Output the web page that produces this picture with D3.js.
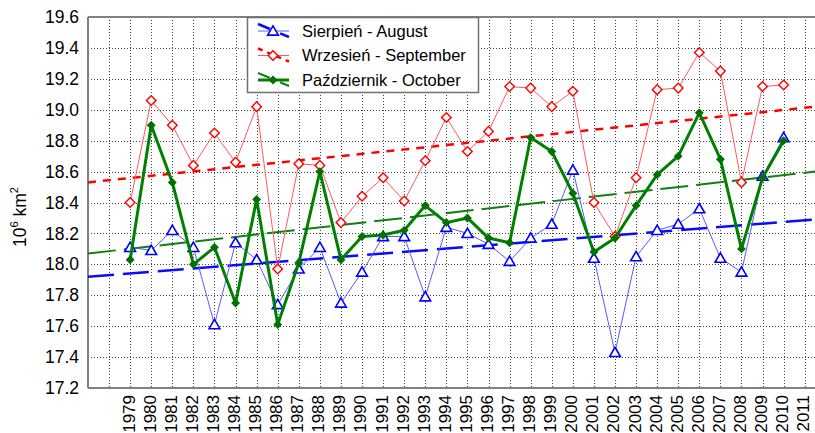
<!DOCTYPE html>
<html>
<head>
<meta charset="utf-8">
<script src="https://cdn.jsdelivr.net/npm/d3@7"></script>
<style>
  body { margin: 0; background: #fff; }
  svg { display: block; font-family: "Liberation Sans", Arial, sans-serif; }
</style>
</head>
<body>
<div id="chart"></div>
<script>
// years on the x axis
var years = d3.range(1979, 2011);
var yearLabels = d3.range(1979, 2012);
var yTicks = [17.2, 17.4, 17.6, 17.8, 18.0, 18.2, 18.4, 18.6, 18.8, 19.0, 19.2, 19.4, 19.6];

var august = [18.11, 18.09, 18.22, 18.11, 17.61, 18.14, 18.03, 17.74, 17.97, 18.11,
    17.75, 17.95, 18.18, 18.18, 17.79, 18.24, 18.20, 18.13, 18.02, 18.17,
    18.26, 18.61, 18.04, 17.43, 18.05, 18.22, 18.26, 18.36, 18.04, 17.95,
    18.57, 18.82];
var september = [18.40, 19.06, 18.90, 18.64, 18.85, 18.66, 19.02, 17.97, 18.65, 18.64,
    18.27, 18.44, 18.56, 18.41, 18.67, 18.95, 18.73, 18.86, 19.15, 19.14,
    19.02, 19.12, 18.40, 18.18, 18.56, 19.13, 19.14, 19.37, 19.25, 18.53,
    19.15, 19.16];
var october = [18.03, 18.90, 18.53, 18.00, 18.11, 17.75, 18.42, 17.61, 18.01, 18.60,
    18.03, 18.18, 18.19, 18.22, 18.38, 18.27, 18.30, 18.17, 18.14, 18.82,
    18.73, 18.46, 18.08, 18.17, 18.38, 18.58, 18.70, 18.98, 18.68, 18.10,
    18.56, 18.80];

// trend lines: value at start year and end year
var trendYears = [1977, 2011.5];
var trendAugust = [17.92, 18.29];
var trendSeptember = [18.53, 19.02];
var trendOctober = [18.07, 18.60];

var options = {
    width: 815,
    height: 433,
    left: 88,
    top: 17,
    bottom: 388,
    fontSize: 17.5
};

function drawChart(opt) {
    var svg = d3.select("#chart").append("svg")
        .attr("width", opt.width)
        .attr("height", opt.height);

    var x = d3.scaleLinear()
        .domain([1977, 2012])
        .range([opt.left, opt.left + 35 * 21.08]);

    var y = d3.scaleLinear()
        .domain([17.2, 19.6])
        .range([opt.bottom, opt.top]);

    svg.append("clipPath").attr("id", "plot-clip")
        .append("rect")
        .attr("x", opt.left).attr("y", opt.top)
        .attr("width", opt.width - opt.left).attr("height", opt.bottom - opt.top);

    // grid
    var grid = svg.append("g").attr("class", "grid")
        .attr("stroke", "#444").attr("stroke-width", 1).attr("stroke-dasharray", "1,2");
    grid.selectAll(".hgrid")
        .data(yTicks.slice(1, -1))
        .enter().append("line")
        .attr("x1", opt.left).attr("x2", opt.width)
        .attr("y1", function (d) { return Math.round(y(d)) + 0.5; })
        .attr("y2", function (d) { return Math.round(y(d)) + 0.5; });
    grid.selectAll(".vgrid")
        .data(d3.range(1978, 2012))
        .enter().append("line")
        .attr("y1", opt.top).attr("y2", opt.bottom)
        .attr("x1", function (d) { return Math.round(x(d)) + 0.5; })
        .attr("x2", function (d) { return Math.round(x(d)) + 0.5; });

    // y axis labels
    var yAxis = d3.axisLeft(y)
        .tickValues(yTicks)
        .tickFormat(d3.format(".1f"))
        .tickSize(0)
        .tickPadding(9);
    var yg = svg.append("g")
        .attr("transform", "translate(" + opt.left + ",0)")
        .call(yAxis);
    yg.select(".domain").remove();
    yg.selectAll("text")
        .attr("font-family", "Liberation Sans, Arial, sans-serif")
        .attr("font-size", opt.fontSize)
        .attr("fill", "#000");

    // x axis labels
    var xAxis = d3.axisBottom(x)
        .tickValues(yearLabels)
        .tickFormat(d3.format("d"))
        .tickSize(0);
    var xg = svg.append("g")
        .attr("transform", "translate(0," + opt.bottom + ")")
        .call(xAxis);
    xg.select(".domain").remove();
    xg.selectAll("text")
        .attr("font-family", "Liberation Sans, Arial, sans-serif")
        .attr("font-size", 17)
        .attr("fill", "#000")
        .attr("text-anchor", "end")
        .attr("transform", "rotate(-90)")
        .attr("x", -7)
        .attr("y", -2)
        .attr("dy", "0.35em");

    // frame
    svg.append("line")
        .attr("x1", opt.left).attr("x2", opt.width)
        .attr("y1", opt.top).attr("y2", opt.top)
        .attr("stroke", "#808080").attr("stroke-width", 2);
    svg.append("line")
        .attr("x1", opt.left).attr("x2", opt.width)
        .attr("y1", opt.bottom).attr("y2", opt.bottom)
        .attr("stroke", "#808080").attr("stroke-width", 2);
    svg.append("line")
        .attr("x1", opt.left).attr("x2", opt.left)
        .attr("y1", opt.top).attr("y2", opt.bottom)
        .attr("stroke", "#808080").attr("stroke-width", 2);

    // y title
    var title = svg.append("text")
        .attr("transform", "translate(26,217) rotate(-90)")
        .attr("text-anchor", "middle")
        .attr("font-size", opt.fontSize)
        .attr("fill", "#000");
    title.append("tspan").text("10");
    title.append("tspan").attr("font-size", 11).attr("dy", -8).text("6");
    title.append("tspan").attr("dy", 8).text(" km");
    title.append("tspan").attr("font-size", 11).attr("dy", -8).text("2");

    var plot = svg.append("g").attr("clip-path", "url(#plot-clip)");

    var series = [
        { name: "Sierpień - August", values: august, trend: trendAugust,
          line: "#5a5aff", lineWidth: 1, color: "#0000ff", trendColor: "#0a0aff",
          trendWidth: 2.5, dash: "26,9", marker: "triangle" },
        { name: "Wrzesień - September", values: september, trend: trendSeptember,
          line: "#ff5a5a", lineWidth: 1, color: "#ff0000", trendColor: "#ff0000",
          trendWidth: 2.5, dash: "8,7", marker: "diamond" },
        { name: "Październik - October", values: october, trend: trendOctober,
          line: "#008000", lineWidth: 3, color: "#007000", trendColor: "#108010",
          trendWidth: 2, dash: "28,8", marker: "filled" }
    ];

    var line = d3.line()
        .x(function (d) { return x(d[0]); })
        .y(function (d) { return y(d[1]); });

    // trend lines
    series.forEach(function (s) {
        plot.append("path")
            .attr("d", line([[trendYears[0], s.trend[0]], [trendYears[1], s.trend[1]]]))
            .attr("fill", "none")
            .attr("stroke", s.trendColor)
            .attr("stroke-width", s.trendWidth)
            .attr("stroke-dasharray", s.dash);
    });

    function markerPath(type) {
        if (type === "triangle") return d3.symbol(d3.symbolTriangle, 50)();
        if (type === "diamond") return d3.symbol(d3.symbolSquare, 46)();
        return d3.symbol(d3.symbolSquare, 28)();
    }

    function drawMarker(g, s, cx, cy) {
        var m = g.append("path")
            .attr("d", markerPath(s.marker))
            .attr("stroke", s.color);
        if (s.marker === "triangle") {
            m.attr("transform", "translate(" + cx + "," + (cy + 1) + ")")
                .attr("fill", "#fff").attr("stroke-width", 1.6);
        } else if (s.marker === "diamond") {
            m.attr("transform", "translate(" + cx + "," + cy + ") rotate(45)")
                .attr("fill", "#fff").attr("stroke-width", 1.4);
        } else {
            m.attr("transform", "translate(" + cx + "," + cy + ") rotate(45)")
                .attr("fill", s.color).attr("stroke-width", 1);
        }
    }

    // data lines
    series.forEach(function (s) {
        var pts = years.map(function (yr, i) { return [yr, s.values[i]]; });
        plot.append("path")
            .attr("d", line(pts))
            .attr("fill", "none")
            .attr("stroke", s.line)
            .attr("stroke-width", s.lineWidth)
            .attr("stroke-linejoin", "round");
        var mg = plot.append("g");
        pts.forEach(function (p) {
            drawMarker(mg, s, x(p[0]), y(p[1]));
        });
    });

    // legend
    var legend = svg.append("g");
    legend.append("rect")
        .attr("x", 247.5).attr("y", 17.5)
        .attr("width", 231).attr("height", 75)
        .attr("fill", "#fff")
        .attr("stroke", "#707070")
        .attr("stroke-width", 1.5);
    series.forEach(function (s, i) {
        var ry = 31 + i * 24.5;
        legend.append("line")
            .attr("x1", 258).attr("x2", 289)
            .attr("y1", ry).attr("y2", ry)
            .attr("stroke", s.line).attr("stroke-width", s.lineWidth);
        legend.append("line")
            .attr("x1", 258).attr("x2", 289)
            .attr("y1", ry - 7).attr("y2", ry + 6)
            .attr("stroke", s.trendColor).attr("stroke-width", s.trendWidth)
            .attr("stroke-dasharray", s.marker === "diamond" ? "5,5" : "13,11");
        drawMarker(legend, s, 273, ry);
        legend.append("text")
            .attr("x", 302).attr("y", ry)
            .attr("dy", "0.35em")
            .attr("font-size", 16.5)
            .attr("fill", "#000")
            .text(s.name);
    });
}

drawChart(options);
</script>
</body>
</html>
